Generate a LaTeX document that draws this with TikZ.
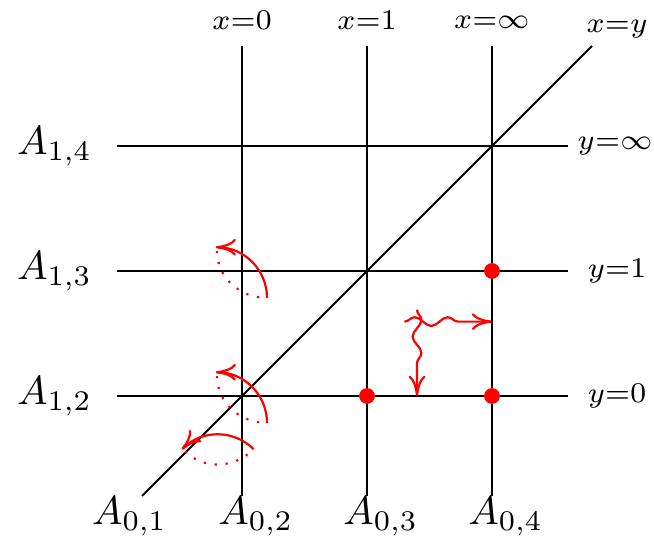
\documentclass[tikz,border=0pt]{standalone}
\usetikzlibrary{decorations.pathmorphing,arrows.meta}
\begin{document}
\begin{tikzpicture}[
  gridline/.style={black, line width=0.45pt},
  toplab/.style={font=\scriptsize, anchor=base, inner sep=0pt, scale=0.93},
  sidelab/.style={font=\scriptsize, inner sep=0pt, scale=0.93},
  Alab/.style={inner sep=0pt, scale=0.925},
  reddot/.style={circle, fill=red, inner sep=0pt, minimum size=3.6pt},
  redtip/.tip={To[length=4.6pt, width=3.8pt]},
  loopsolid/.style={red, -redtip, line width=0.5pt},
  loopdotted/.style={red, dotted, line width=0.5pt},
  snakearrow/.style={red, -redtip, line width=0.5pt, decorate,
    decoration={snake, amplitude=1pt, segment length=7.5pt, post length=4pt}}
]
\useasboundingbox (-1.936,-1.144) rectangle (3.296,3.168);

% grid line endpoints
\coordinate (v0b) at (0,-0.8);  \coordinate (v0t) at (0,2.8);
\coordinate (v1b) at (1,-0.8);  \coordinate (v1t) at (1,2.8);
\coordinate (v2b) at (2,-0.8);  \coordinate (v2t) at (2,2.8);
\coordinate (h0l) at (-1,0);    \coordinate (h0r) at (2.61,0);
\coordinate (h1l) at (-1,1);    \coordinate (h1r) at (2.61,1);
\coordinate (h2l) at (-1,2);    \coordinate (h2r) at (2.61,2);
\coordinate (db) at (-0.8,-0.8); \coordinate (dt) at (2.8,2.8);

\draw[gridline] (v0b) -- (v0t);
\draw[gridline] (v1b) -- (v1t);
\draw[gridline] (v2b) -- (v2t);
\draw[gridline] (h0l) -- (h0r);
\draw[gridline] (h1l) -- (h1r);
\draw[gridline] (h2l) -- (h2r);
\draw[gridline] (db) -- (dt);

% top labels
\node[toplab] (lx0) at (0,2.928) {$x{=}0$};
\node[toplab] (lx1) at (1,2.928) {$x{=}1$};
\node[toplab] (lxi) at (2,2.94) {$x{=}\infty$};
\node[toplab] (lxy) at (3.0,2.91) {$x{=}y$};

% right labels
\node[sidelab] (ly0) at (3.0,0) {$y{=}0$};
\node[sidelab] (ly1) at (3.0,1) {$y{=}1$};
\node[sidelab] (lyi) at (2.985,2) {$y{=}\infty$};

% left labels
\node[Alab] (A12) at (-1.5,0) {$A_{1,2}$};
\node[Alab] (A13) at (-1.5,1) {$A_{1,3}$};
\node[Alab] (A14) at (-1.5,2) {$A_{1,4}$};

% bottom labels
\node[Alab] (A01) at (-0.9,-0.96) {$A_{0,1}$};
\node[Alab] (A02) at (0.11,-0.96) {$A_{0,2}$};
\node[Alab] (A03) at (1.11,-0.96) {$A_{0,3}$};
\node[Alab] (A04) at (2.11,-0.96) {$A_{0,4}$};

% red dots
\node[reddot] (p21) at (2,1) {};
\node[reddot] (p10) at (1,0) {};
\node[reddot] (p20) at (2,0) {};

% loops
\foreach \cx/\cy/\rot in {0/1/0, 0/0/0, -0.2/-0.415/45} {
  \begin{scope}[shift={(\cx,\cy)}, rotate=\rot]
    \coordinate (ls) at (0.2,-0.215);
    \coordinate (le) at (-0.21,0.19);
    \coordinate (lf) at (-0.2,0.16);
    \draw[loopsolid] (ls) to[out=90,in=0] (le);
    \draw[loopdotted] (lf) to[out=-90,in=180] (ls);
  \end{scope}
}

% snake arrows
\coordinate (sh1) at (1.3,0.595);
\coordinate (sh2) at (2,0.595);
\coordinate (sv1) at (1.4,0.69);
\coordinate (sv2) at (1.4,0);
\draw[snakearrow] (sh1) -- (sh2);
\draw[snakearrow] (sv1) -- (sv2);
\end{tikzpicture}
\end{document}
